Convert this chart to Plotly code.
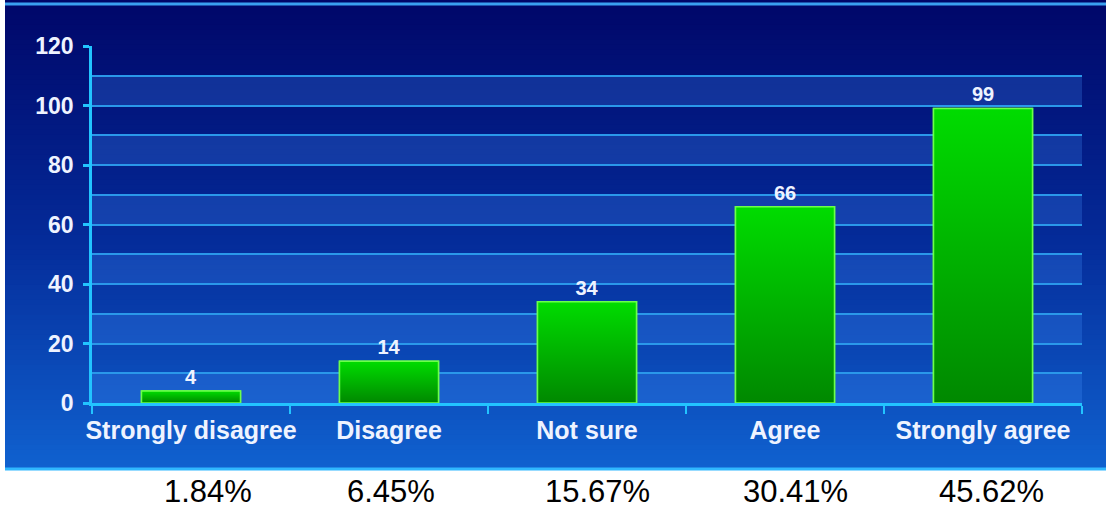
import plotly.graph_objects as go

categories = ["Strongly disagree", "Disagree", "Not sure", "Agree", "Strongly agree"]
counts = [4, 14, 34, 66, 99]
percent_labels = ["1.84%", "6.45%", "15.67%", "30.41%", "45.62%"]
y_ticks = [0, 20, 40, 60, 80, 100, 120]
band_starts = [0, 20, 40, 60, 80, 100]

# style: small horizontal nudges of the percentage captions (pixels)
pct_xshift = [17, 2, 10, 10, 8]

W, H = 1106, 508
L, R, T, B = 92, 24, 46, 105
PW, PH = W - L - R, H - T - B

def px_x(p):
    return (p - L) / PW

def px_y(p):
    return (H - B - p) / PH

BAR_W = 0.5
idx = list(range(len(categories)))
FONT = "Liberation Sans, Arial"

fig = go.Figure()

fig.add_trace(go.Bar(
    x=idx, y=counts, width=BAR_W,
    marker=dict(color="#00b400", line=dict(color="#6cff4a", width=1.5)),
    text=["<b>%d</b>" % v for v in counts], textposition="outside",
    textfont=dict(family=FONT, size=20, color="#eef3ff"),
    cliponaxis=False, showlegend=False, hoverinfo="skip",
))

for i, v in zip(idx, counts):
    fig.add_trace(go.Scatter(
        x=[i - BAR_W / 2, i + BAR_W / 2, i + BAR_W / 2, i - BAR_W / 2, i - BAR_W / 2],
        y=[0, 0, v, v, 0],
        mode="lines", fill="toself",
        fillgradient=dict(type="vertical",
                          colorscale=[[0, "#008800"], [1, "#00dc00"]]),
        line=dict(color="#6cff4a", width=1.5),
        showlegend=False, hoverinfo="skip",
    ))

shapes = []
# panel background gradient
N = 94
top_c = (0, 6, 104)
mid_c = (4, 42, 152)
bot_c = (16, 98, 208)
panel_top, panel_bot = 0, 470
for k in range(N):
    y0p = panel_top + (panel_bot - panel_top) * k / N
    y1p = panel_top + (panel_bot - panel_top) * (k + 1) / N
    t = (k + 0.5) / N
    if t < 0.5:
        a, b, f = top_c, mid_c, t / 0.5
    else:
        a, b, f = mid_c, bot_c, (t - 0.5) / 0.5
    c = tuple(int(round(a[j] + (b[j] - a[j]) * f)) for j in range(3))
    shapes.append(dict(type="rect", xref="paper", yref="paper",
                       x0=px_x(5), x1=px_x(W + 2), y0=px_y(y1p), y1=px_y(y0p) + 0.0005,
                       fillcolor="rgb(%d,%d,%d)" % c, line=dict(width=0), layer="below"))
# border lines
shapes.append(dict(type="line", xref="paper", yref="paper", x0=px_x(5), x1=px_x(W + 2),
                   y0=px_y(4), y1=px_y(4), line=dict(color="#3aa0f0", width=3), layer="below"))
shapes.append(dict(type="line", xref="paper", yref="paper", x0=px_x(5), x1=px_x(W + 2),
                   y0=px_y(469), y1=px_y(469), line=dict(color="#30b8ff", width=3), layer="below"))
# alternating lighter bands
for s in band_starts:
    shapes.append(dict(type="rect", xref="paper", yref="y", x0=0, x1=1, y0=s, y1=s + 10,
                       fillcolor="rgba(70,150,255,0.24)", line=dict(width=0), layer="below"))

annotations = []
for i, p, sh in zip(idx, percent_labels, pct_xshift):
    annotations.append(dict(x=i, xref="x", y=px_y(491), yref="paper", text=p,
                            showarrow=False, xshift=sh, yanchor="middle", xanchor="center",
                            font=dict(family=FONT, size=31, color="#000000")))

fig.update_layout(
    width=W, height=H,
    margin=dict(l=L, r=R, t=T, b=B, pad=0),
    paper_bgcolor="#ffffff", plot_bgcolor="rgba(0,0,0,0)",
    shapes=shapes, annotations=annotations,
    font=dict(family=FONT, color="#eef3ff"),
    xaxis=dict(
        range=[-0.5, 4.5], tickvals=idx, ticktext=["<b>%s</b>" % c for c in categories],
        ticks="", showgrid=False, zeroline=False,
        showline=True, linecolor="#22c4ff", linewidth=2.5,
        tickfont=dict(size=25, color="#eef3ff"), ticklabelstandoff=3,
        minor=dict(tick0=-0.5, dtick=1, ticks="outside", ticklen=8,
                   tickcolor="#22c4ff", tickwidth=2, showgrid=False),
        fixedrange=True,
    ),
    yaxis=dict(
        range=[0, 120], tickvals=y_ticks, ticktext=["<b>%d</b>" % v for v in y_ticks],
        ticks="outside", ticklen=6, tickwidth=2.5, tickcolor="#22c4ff",
        showgrid=True, gridcolor="#2a98ea", gridwidth=1.5,
        zeroline=False, showline=True, linecolor="#22c4ff", linewidth=2.5,
        tickfont=dict(size=23, color="#eef3ff"), ticklabelstandoff=5,
        minor=dict(dtick=10, showgrid=True, gridcolor="#2a98ea", gridwidth=1.5, ticks=""),
        fixedrange=True,
    ),
    bargap=0.5,
)

fig.write_html("out.html", config={"displayModeBar": False},
               post_script="document.body.style.margin='0';document.body.style.overflow='hidden';")
